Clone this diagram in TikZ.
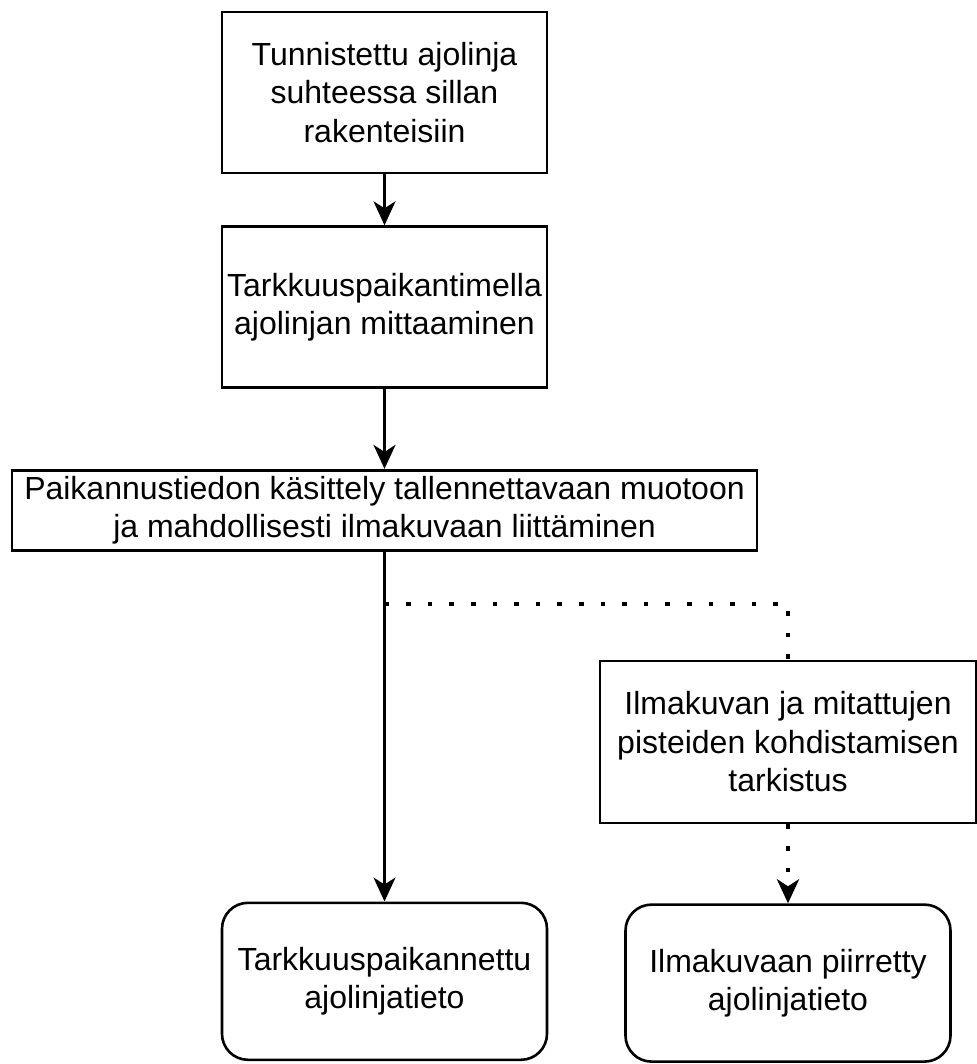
\documentclass[tikz,border=0pt]{standalone}
\usepackage{fontspec}
\setmainfont{Liberation Sans}
\usetikzlibrary{arrows.meta,positioning}

\begin{document}
\begin{tikzpicture}[
    >={Stealth[length=24pt,width=22pt,inset=7pt]},
    node distance=51pt,
    block/.style={draw, line width=2.6pt, align=center, inner sep=2pt, minimum width=325pt, minimum height=161pt, font=\fontsize{32}{38.5}\selectfont},
    result/.style={block, rounded corners=26pt, minimum height=157pt},
    arr/.style={->, line width=2.6pt},
    dots/.style={line width=4.6pt, dash pattern=on 4.6pt off 17pt}
]
    \useasboundingbox (0,0) rectangle (976pt,-1064pt);

    \node[block] (ajolinja) at (384.5pt,-92.5pt) {Tunnistettu ajolinja\\suhteessa sillan\\rakenteisiin};
    \node[block, below=51pt of ajolinja] (mittaus) {Tarkkuuspaikantimella\\ajolinjan mittaaminen};
    \node[block, below=80pt of mittaus, minimum width=745pt, minimum height=80pt] (kasittely) {Paikannustiedon käsittely tallennettavaan muotoon\\ja mahdollisesti ilmakuvaan liittäminen};
    \node[block, minimum width=376pt, minimum height=162pt] (tarkistus) at (788pt,-742pt) {Ilmakuvan ja mitattujen\\pisteiden kohdistamisen\\tarkistus};
    \node[result, below=350pt of kasittely] (tarkka) {Tarkkuuspaikannettu\\ajolinjatieto};
    \node[result, below=79pt of tarkistus] (piirretty) {Ilmakuvaan piirretty\\ajolinjatieto};

    \draw[arr] (ajolinja) -- (mittaus);
    \draw[arr] (mittaus) -- (kasittely);
    \draw[arr] (kasittely) -- coordinate[pos=0.15] (haara) (tarkka);

    \draw[dots] (haara) -| (tarkistus);
    \draw[dots, ->] (tarkistus) -- (piirretty);
\end{tikzpicture}
\end{document}
